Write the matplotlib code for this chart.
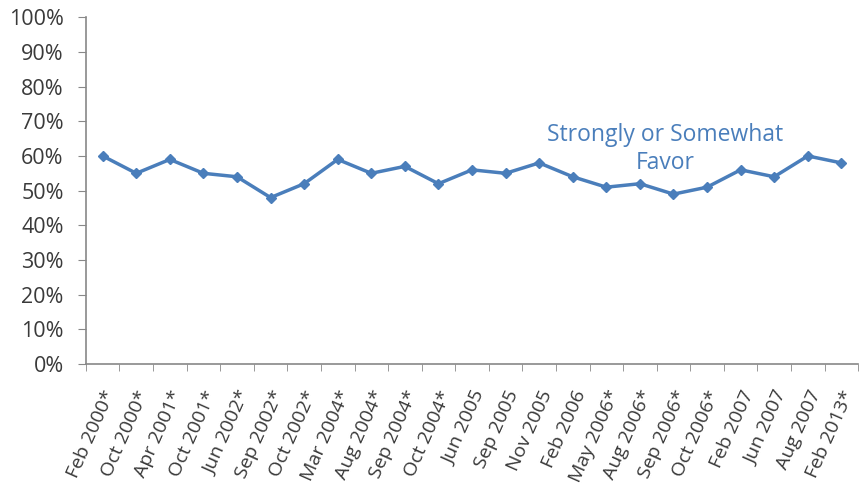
import matplotlib
matplotlib.use("Agg")
import matplotlib.pyplot as plt
import matplotlib.transforms as mtransforms
from matplotlib.ticker import FixedLocator, PercentFormatter

categories = ["Feb 2000*", "Oct 2000*", "Apr 2001*", "Oct 2001*", "Jun 2002*",
              "Sep 2002*", "Oct 2002*", "Mar 2004*", "Aug 2004*", "Sep 2004*",
              "Oct 2004*", "Jun 2005", "Sep 2005", "Nov 2005", "Feb 2006",
              "May 2006*", "Aug 2006*", "Sep 2006*", "Oct 2006*", "Feb 2007",
              "Jun 2007", "Aug 2007", "Feb 2013*"]
favor = [60, 55, 59, 55, 54, 48, 52, 59, 55, 57, 52, 56, 55, 58, 54,
         51, 52, 49, 51, 56, 54, 60, 58]
yticks = list(range(0, 101, 10))

plt.rcParams['font.family'] = ['Open Sans', 'DejaVu Sans']
blue = '#4a7ebb'
grey = '#3a3a3a'

fig = plt.figure(figsize=(8.59, 4.92), dpi=100)
ax = fig.add_axes([0.100, 0.26, 0.899, 0.705])
x = list(range(len(categories)))
ax.plot(x, favor, color=blue, lw=2.5, marker='D', ms=5.5, mfc=blue, mec=blue)

ax.set_xlim(-0.5, len(categories) - 0.5)
ax.set_ylim(0, 100)
ax.set_yticks(yticks)
ax.yaxis.set_major_formatter(PercentFormatter(decimals=0))
ax.set_xticks(x)
ax.set_xticklabels(categories, rotation=66, ha='right', rotation_mode='anchor',
                   fontsize=14, color=grey)
offset = mtransforms.ScaledTranslation(-6 / 100, 0, fig.dpi_scale_trans)
for lab in ax.get_xticklabels():
    lab.set_transform(lab.get_transform() + offset)
ax.xaxis.set_minor_locator(FixedLocator([i - 0.5 for i in range(len(categories) + 1)]))
ax.tick_params(axis='x', which='major', length=0, pad=17)
ax.tick_params(axis='x', which='minor', length=5, direction='out', color='#888888')
ax.tick_params(axis='y', length=6, direction='out', color='#888888', labelsize=15.5,
               labelcolor=grey, pad=10)
for s in ['top', 'right']:
    ax.spines[s].set_visible(False)
for s in ['left', 'bottom']:
    ax.spines[s].set_color('#888888')
    ax.spines[s].set_linewidth(1.2)

ax.text(16.75, 62.0, "Strongly or Somewhat\nFavor", color=blue, fontsize=16.5,
        ha='center', va='center', linespacing=1.25)

fig.savefig("out.png", dpi=100)
